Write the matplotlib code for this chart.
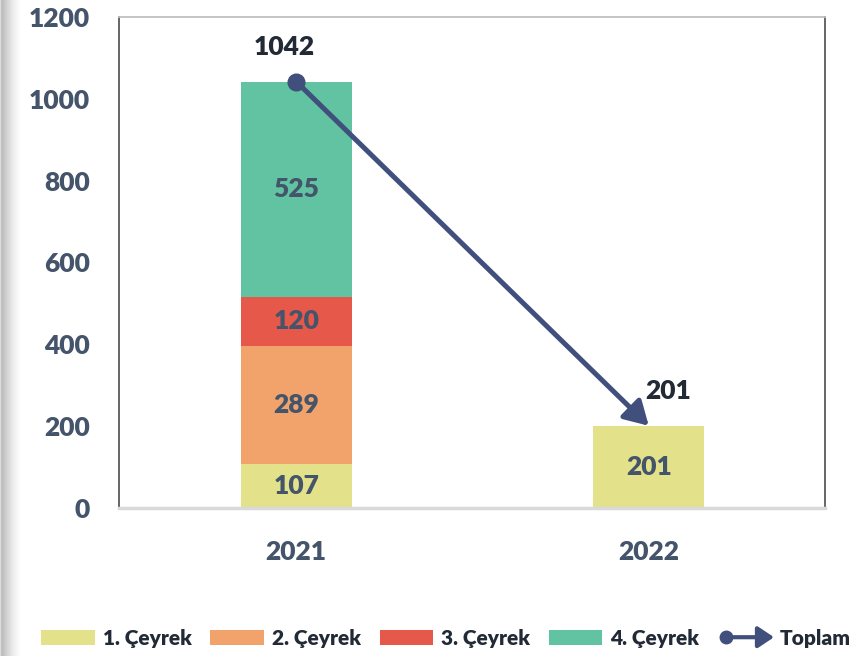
import numpy as np
import matplotlib
matplotlib.use("Agg")
import matplotlib.pyplot as plt
from matplotlib.legend_handler import HandlerBase
from matplotlib.lines import Line2D
from matplotlib.patches import FancyArrowPatch, Patch

plt.rcParams['font.family'] = ['Lato', 'DejaVu Sans']

# ---- data ----
years = ["2021", "2022"]
q1 = [107, 201]
q2 = [289, 0]
q3 = [120, 0]
q4 = [525, 0]
totals = [1042, 201]
series_names = ["1. Çeyrek", "2. Çeyrek", "3. Çeyrek", "4. Çeyrek"]
total_name = "Toplam"
yticks = [0, 200, 400, 600, 800, 1000, 1200]

colors = ["#E3E28B", "#F2A36C", "#E5584A", "#61C3A1"]
line_color = "#414F7C"
label_color = "#44546A"
dark_text = "#222A35"
W = 'heavy'

fig = plt.figure(figsize=(8.49, 6.56), dpi=100)
ax = fig.add_axes([119/849, 1-508/656, (825-119)/849, (508-17)/656])

x = np.arange(len(years))
width = 0.315
bottom = np.zeros(len(years))
for vals, c, name in zip([q1, q2, q3, q4], colors, series_names):
    vals = np.array(vals, dtype=float)
    ax.bar(x, vals, width, bottom=bottom, color=c, label=name, zorder=2)
    for xi, v, b in zip(x, vals, bottom):
        if v > 0:
            ax.text(xi, b + v/2, f"{int(v)}", ha='center', va='center',
                    fontsize=19, fontweight=W, color=label_color, zorder=3)
    bottom += vals

# total line with arrow
ax.annotate('', xy=(x[1], totals[1]), xytext=(x[0], totals[0]),
            arrowprops=dict(arrowstyle='-|>,head_length=0.55,head_width=0.32',
                            lw=3.6, color=line_color, mutation_scale=26,
                            shrinkA=0, shrinkB=0), zorder=4)
ax.plot(x[:1], totals[:1], 'o', ms=12, color=line_color, zorder=5)

offsets = [(-9, 25), (14, 25)]
for xi, t, off in zip(x, totals, offsets):
    ax.annotate(f"{t}", xy=(xi, t), xytext=off, textcoords='offset points',
                ha='center', va='center', fontsize=19, fontweight=W,
                color=dark_text, zorder=6)

ax.set_xlim(-0.503, 1.5)
ax.set_ylim(0, 1200)
ax.set_xticks(x)
ax.set_xticklabels(years)
ax.set_yticks(yticks)
for lab in ax.get_xticklabels() + ax.get_yticklabels():
    lab.set_fontsize(19)
    lab.set_fontweight(W)
    lab.set_color(label_color)
ax.tick_params(axis='both', length=0)
ax.tick_params(axis='y', pad=21)
ax.tick_params(axis='x', pad=23)

ax.spines['left'].set_color('#595959')
ax.spines['right'].set_color('#595959')
ax.spines['left'].set_linewidth(1.3)
ax.spines['right'].set_linewidth(1.3)
ax.spines['top'].set_color('#BFBFBF')
ax.spines['top'].set_linewidth(1.3)
ax.spines['bottom'].set_color('#D9D9D9')
ax.spines['bottom'].set_linewidth(2.5)


class ArrowLineHandler(HandlerBase):
    def create_artists(self, legend, orig_handle, xdescent, ydescent,
                       width, height, fontsize, trans):
        y = height / 2 - ydescent
        x0 = -xdescent + 6
        x1 = -xdescent + width + 2
        arr = FancyArrowPatch((x0, y), (x1, y),
                              arrowstyle='-|>,head_length=0.6,head_width=0.4',
                              mutation_scale=16, lw=3, color=line_color,
                              shrinkA=0, shrinkB=0, transform=trans)
        dot = Line2D([x0], [y], marker='o', ms=9, color=line_color,
                     linestyle='none', transform=trans)
        return [arr, dot]


handles = [Patch(facecolor=c, edgecolor='none') for c in colors]
total_handle = Line2D([], [], color=line_color)
leg = fig.legend(handles + [total_handle], series_names + [total_name],
                 loc='center', bbox_to_anchor=(446/849, 1-638/656), ncol=5,
                 frameon=False, handlelength=2.55, handleheight=0.7,
                 handletextpad=0.4, columnspacing=0.9,
                 handler_map={total_handle: ArrowLineHandler()},
                 prop={'weight': W, 'size': 15})
for t in leg.get_texts():
    t.set_color(dark_text)

# left shadow
sax = fig.add_axes([0, 0, 22/849, 1])
grad = np.linspace(0, 1, 100)
alpha = np.clip(1 - grad, 0, 1) ** 1.5 * 0.55
img = np.ones((1, 100, 4))
img[..., :3] = 0.45
img[0, :, 3] = alpha
img[0, :8, 3] = np.linspace(0.15, alpha[8], 8)
sax.imshow(img, aspect='auto', extent=[0, 1, 0, 1])
sax.axis('off')

fig.savefig("out.png", dpi=100)
